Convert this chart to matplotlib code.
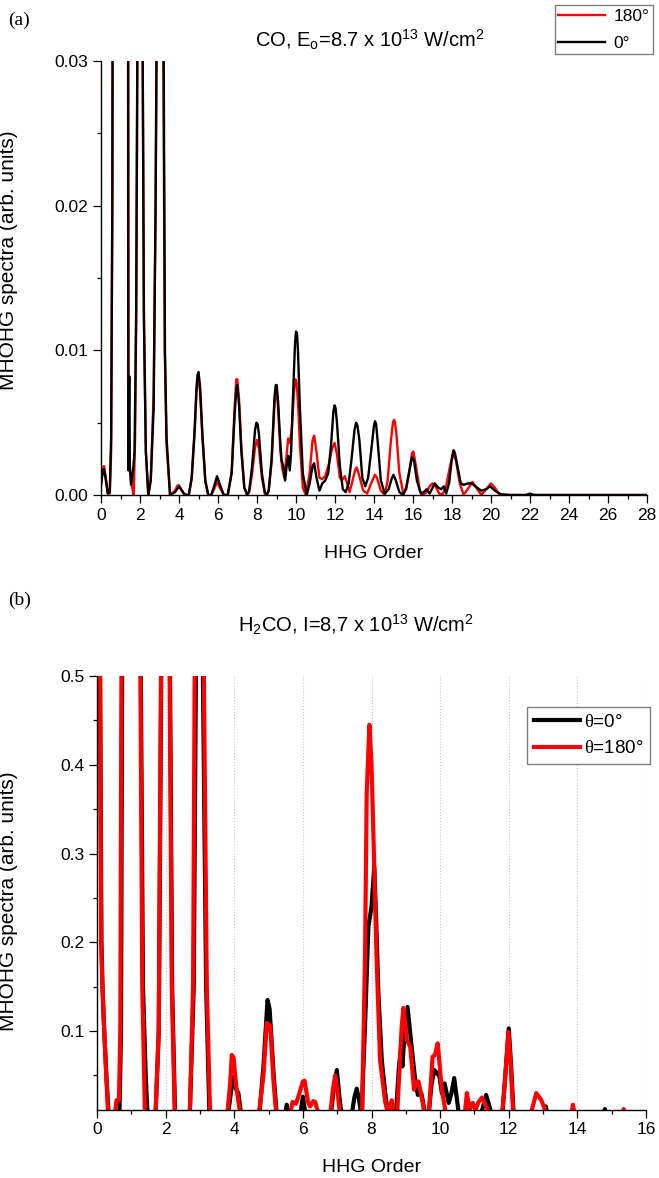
import matplotlib
matplotlib.use("Agg")
import matplotlib.pyplot as plt
from matplotlib.ticker import MultipleLocator, FormatStrFormatter

plt.rcParams['font.family'] = ['Liberation Sans', 'DejaVu Sans']
plt.rcParams['mathtext.fontset'] = 'custom'
plt.rcParams['mathtext.rm'] = 'Liberation Sans'
plt.rcParams['mathtext.it'] = 'Liberation Serif'

# --- (a) CO spectra ---
co_x_0 = [0.0, 0.08, 0.15, 0.25, 0.35, 0.45, 0.52, 0.58, 0.62, 1.0, 1.38,
          1.40, 1.45, 1.48, 1.54, 1.65, 1.72, 1.80, 1.86, 1.90, 2.0, 2.1, 2.14, 2.2, 2.3, 2.43,
          2.55, 2.7, 2.8, 2.87, 3.0, 3.2, 3.28, 3.36, 3.54,
          3.8, 3.9, 4.0, 4.1, 4.25, 4.4,
          4.5, 4.65, 4.8, 4.9, 4.95, 5.0, 5.08, 5.2, 5.35, 5.5,
          5.65, 5.8, 5.95, 6.1, 6.3,
          6.5, 6.7, 6.85, 6.94, 6.99, 7.08, 7.2, 7.35, 7.5,
          7.6, 7.75, 7.9, 7.97, 8.03, 8.1, 8.25, 8.4, 8.5,
          8.6, 8.75, 8.9, 8.96, 9.01, 9.08, 9.2, 9.26, 9.35, 9.44, 9.52, 9.6, 9.68,
          9.75, 9.85, 9.95, 10.0, 10.05, 10.1, 10.2, 10.35, 10.55,
          10.7, 10.85, 10.93, 11.05, 11.2, 11.35, 11.5, 11.65,
          11.8, 11.92, 11.98, 12.03, 12.1, 12.25, 12.4, 12.55,
          12.7, 12.85, 13.0, 13.08, 13.15, 13.25, 13.4, 13.55,
          13.7, 13.85, 14.0, 14.05, 14.11, 14.2, 14.35, 14.55,
          14.75, 14.9, 15.0, 15.12, 15.3, 15.5,
          15.65, 15.8, 15.95, 16.05, 16.2, 16.4,
          16.55, 16.7, 16.85, 17.0, 17.12, 17.3, 17.45, 17.58, 17.7,
          17.85, 18.0, 18.08, 18.15, 18.25, 18.45, 18.6, 18.8, 19.0, 19.2,
          19.5, 19.75, 19.95, 20.2, 20.5, 21.0, 21.8, 22.0, 22.2, 28.0]
co_y_0 = [0.0007, 0.0015, 0.0018, 0.0010, 0.0001, 0.0002, 0.004, 0.02, 0.05, 0.08, 0.05,
          0.0017, 0.0082, 0.0020, 0.0007, 0.0018, 0.0030, 0.012, 0.03, 0.06, 0.08, 0.06, 0.03, 0.012, 0.003, 0.0,
          0.001, 0.006, 0.02, 0.035, 0.08, 0.035, 0.010, 0.004, 0.0,
          0.0002, 0.0004, 0.0006, 0.0004, 0.0001, 0.0,
          0.0, 0.0012, 0.0045, 0.0075, 0.0083, 0.0085, 0.0075, 0.0042, 0.0010, 0.0,
          0.0, 0.0006, 0.0013, 0.0007, 0.0,
          0.0, 0.0015, 0.0055, 0.0074, 0.0076, 0.0062, 0.0030, 0.0005, 0.0,
          0.0003, 0.0020, 0.0045, 0.0050, 0.0049, 0.0042, 0.0015, 0.0002, 0.0,
          0.0003, 0.0025, 0.0068, 0.0076, 0.0076, 0.0065, 0.0035, 0.0024, 0.0020, 0.0010, 0.0020, 0.0027, 0.0017,
          0.0030, 0.0070, 0.0105, 0.0113, 0.0112, 0.0100, 0.0060, 0.0015, 0.0,
          0.0008, 0.0020, 0.0022, 0.0012, 0.0003, 0.0008, 0.0010, 0.0015,
          0.0035, 0.0058, 0.0062, 0.0060, 0.0050, 0.0020, 0.0004, 0.0002,
          0.0008, 0.0025, 0.0045, 0.0050, 0.0048, 0.0038, 0.0012, 0.0006,
          0.0012, 0.0030, 0.0048, 0.0051, 0.0049, 0.0035, 0.0010, 0.0001,
          0.0004, 0.0011, 0.0014, 0.0010, 0.0002, 0.0,
          0.0005, 0.0016, 0.0026, 0.0024, 0.0010, 0.0001,
          0.0002, 0.0004, 0.0001, 0.0005, 0.0008, 0.0005, 0.0004, 0.0006, 0.0001,
          0.0008, 0.0026, 0.0031, 0.0029, 0.0022, 0.0008, 0.0007, 0.0008, 0.0008, 0.0006,
          0.0003, 0.0004, 0.0006, 0.0003, 0.00005, 0.0, 0.0, 0.0001, 0.0, 0.0]

co_x_180 = [0.0, 0.08, 0.15, 0.25, 0.35, 0.45, 0.52, 0.58, 0.62, 1.0, 1.38,
            1.42, 1.5, 1.6, 1.68, 1.75, 1.82, 1.88, 2.0, 2.12, 2.2, 2.3, 2.42,
            2.55, 2.7, 2.8, 2.86, 3.0, 3.18, 3.27, 3.36, 3.54,
            3.8, 3.9, 3.98, 4.1, 4.25, 4.4,
            4.5, 4.65, 4.8, 4.9, 4.95, 5.0, 5.08, 5.2, 5.35, 5.5,
            5.65, 5.8, 5.95, 6.1, 6.3,
            6.5, 6.7, 6.85, 6.94, 6.99, 7.08, 7.2, 7.35, 7.5,
            7.6, 7.75, 7.9, 8.0, 8.1, 8.25, 8.4, 8.5,
            8.6, 8.75, 8.9, 8.96, 9.01, 9.08, 9.2, 9.3, 9.4, 9.5, 9.6, 9.68,
            9.78, 9.9, 9.97, 10.03, 10.1, 10.2, 10.35, 10.5,
            10.7, 10.85, 10.93, 11.05, 11.2, 11.35, 11.5,
            11.7, 11.85, 11.98, 12.1, 12.25, 12.35, 12.5, 12.6, 12.75,
            12.9, 13.05, 13.12, 13.25, 13.45, 13.65,
            13.85, 14.05, 14.15, 14.35, 14.55,
            14.7, 14.85, 14.97, 15.03, 15.08, 15.15, 15.3, 15.5,
            15.65, 15.8, 15.95, 16.02, 16.15, 16.35, 16.5,
            16.7, 16.85, 17.0, 17.15, 17.35, 17.5,
            17.7, 17.9, 18.05, 18.2, 18.4, 18.6,
            18.8, 19.05, 19.25, 19.5, 19.75, 20.0, 20.2, 20.45, 28.0]
co_y_180 = [0.0008, 0.0018, 0.0020, 0.0012, 0.0001, 0.0001, 0.003, 0.02, 0.05, 0.08, 0.05,
            0.0020, 0.0015, 0.0005, 0.0, 0.004, 0.015, 0.035, 0.08, 0.035, 0.013, 0.003, 0.0,
            0.001, 0.007, 0.02, 0.035, 0.08, 0.035, 0.010, 0.0035, 0.0,
            0.0003, 0.0006, 0.0007, 0.0004, 0.0001, 0.0,
            0.0, 0.0011, 0.0042, 0.0072, 0.0079, 0.0080, 0.0072, 0.0040, 0.0009, 0.0,
            0.0, 0.0004, 0.0009, 0.0005, 0.0,
            0.0, 0.0016, 0.0060, 0.0080, 0.0080, 0.0066, 0.0032, 0.0005, 0.0,
            0.0002, 0.0015, 0.0033, 0.0038, 0.0032, 0.0012, 0.0001, 0.0,
            0.0003, 0.0023, 0.0064, 0.0071, 0.0071, 0.0060, 0.0030, 0.0018, 0.0012, 0.0025, 0.0039, 0.0036,
            0.0045, 0.0072, 0.0080, 0.0078, 0.0065, 0.0035, 0.0005, 0.0,
            0.0015, 0.0038, 0.0041, 0.0030, 0.0012, 0.0011, 0.0013,
            0.0022, 0.0032, 0.0036, 0.0028, 0.0012, 0.0010, 0.0013, 0.0009, 0.0002,
            0.0010, 0.0018, 0.0019, 0.0013, 0.0003, 0.0001,
            0.0008, 0.0014, 0.0012, 0.0003, 0.0,
            0.0010, 0.0035, 0.0050, 0.0052, 0.0050, 0.0042, 0.0015, 0.0001,
            0.0004, 0.0015, 0.0029, 0.0030, 0.0020, 0.0003, 0.0,
            0.0002, 0.0006, 0.0008, 0.0006, 0.0001, 0.0,
            0.0006, 0.0020, 0.0028, 0.0024, 0.0008, 0.0,
            0.0004, 0.0009, 0.0005, 0.0, 0.0004, 0.0008, 0.0005, 0.0, 0.0]

# --- (b) H2CO spectra ---
h2co_x_0 = [0.0, 0.09, 0.13, 0.16, 0.21, 0.28, 0.35, 0.65, 0.70, 0.74, 1.0, 1.26, 1.34, 1.42, 1.48,
            1.7, 1.8, 1.89, 2.0, 2.11, 2.19, 2.28, 2.7, 2.82, 2.9, 3.0, 3.06, 3.18, 3.28,
            3.8, 3.9, 3.97, 4.05, 4.12, 4.22,
            4.72, 4.85, 4.97, 5.03, 5.15, 5.25, 5.45, 5.53, 5.6,
            5.9, 6.0, 6.1, 6.8, 6.9, 6.99, 7.08, 7.15,
            7.4, 7.5, 7.57, 7.65, 7.72, 7.74, 7.81, 7.91, 8.0, 8.08, 8.14, 8.2, 8.3, 8.4, 8.5,
            8.7, 8.8, 8.86, 8.9, 8.95, 9.05, 9.17, 9.27, 9.35, 9.45, 9.6,
            9.65, 9.75, 9.83, 9.9, 9.98, 10.05, 10.13, 10.25, 10.33, 10.41, 10.53, 10.6,
            11.15, 11.34, 11.55, 11.8, 11.9, 12.0, 12.07, 12.15,
            13.0, 13.08, 13.15, 14.75, 14.8, 14.85, 16.0]
h2co_y_0 = [0.8, 0.5, 0.2, 0.15, 0.10, 0.045, 0.0, 0.0, 0.1, 0.6, 0.9, 0.6, 0.15, 0.05, 0.0,
            0.0, 0.1, 0.6, 0.9, 0.6, 0.15, 0.0, 0.0, 0.15, 0.6, 0.9, 0.6, 0.15, 0.0,
            0.0, 0.03, 0.048, 0.035, 0.03, 0.0,
            0.0, 0.06, 0.135, 0.125, 0.05, 0.0, 0.0, 0.017, 0.0,
            0.0, 0.026, 0.0, 0.0, 0.035, 0.056, 0.02, 0.0,
            0.0, 0.025, 0.035, 0.02, 0.0, 0.035, 0.105, 0.218, 0.24, 0.285, 0.22, 0.143, 0.067, 0.03, 0.0,
            0.0, 0.06, 0.08, 0.06, 0.09, 0.127, 0.082, 0.046, 0.028, 0.03, 0.0,
            0.0, 0.04, 0.056, 0.053, 0.049, 0.030, 0.041, 0.019, 0.03, 0.047, 0.011, 0.0,
            0.0, 0.028, 0.0, 0.0, 0.05, 0.103, 0.06, 0.0,
            0.0, 0.015, 0.0, 0.0, 0.012, 0.0, 0.0]

h2co_x_180 = [0.0, 0.09, 0.12, 0.15, 0.2, 0.27, 0.33, 0.5, 0.57, 0.64, 0.68, 0.72, 1.0, 1.25, 1.32, 1.4,
              1.7, 1.8, 1.88, 2.0, 2.1, 2.18, 2.27, 2.7, 2.8, 2.86, 3.0, 3.09, 3.2, 3.3,
              3.78, 3.88, 3.93, 3.98, 4.06, 4.2,
              4.7, 4.85, 4.95, 5.05, 5.15, 5.24,
              5.6, 5.7, 5.8, 5.9, 6.0, 6.05, 6.15, 6.21, 6.3, 6.36, 6.5,
              6.78, 6.88, 6.94, 7.0, 7.1,
              7.72, 7.81, 7.86, 7.94, 8.0, 8.05, 8.15, 8.25, 8.4, 8.45, 8.52, 8.59, 8.65,
              8.74, 8.88, 8.93, 8.98, 9.03, 9.13, 9.24, 9.32, 9.37, 9.5, 9.56,
              9.66, 9.78, 9.85, 9.93, 10.05, 10.15, 10.2,
              10.7, 10.78, 10.86, 10.95, 11.03, 11.12, 11.22, 11.3, 11.4, 11.5,
              11.8, 11.9, 11.99, 12.06, 12.14,
              12.6, 12.72, 12.8, 12.9, 12.95, 13.05, 13.1,
              13.8, 13.87, 13.95, 15.3, 15.35, 15.4, 16.0]
h2co_y_180 = [0.8, 0.5, 0.2, 0.16, 0.11, 0.05, 0.0, 0.0, 0.022, 0.022, 0.1, 0.6, 0.9, 0.6, 0.15, 0.0,
              0.0, 0.1, 0.6, 0.9, 0.6, 0.15, 0.0, 0.0, 0.15, 0.6, 0.9, 0.6, 0.15, 0.0,
              0.0, 0.04, 0.073, 0.070, 0.037, 0.0,
              0.0, 0.05, 0.109, 0.106, 0.04, 0.0,
              0.0, 0.020, 0.018, 0.03, 0.043, 0.044, 0.02, 0.015, 0.021, 0.020, 0.0,
              0.0, 0.035, 0.050, 0.035, 0.0,
              0.0, 0.18, 0.368, 0.445, 0.40, 0.33, 0.18, 0.067, 0.02, 0.012, 0.012, 0.022, 0.0,
              0.0, 0.105, 0.126, 0.11, 0.09, 0.082, 0.034, 0.043, 0.043, 0.018, 0.0,
              0.0, 0.071, 0.073, 0.086, 0.034, 0.011, 0.0,
              0.0, 0.030, 0.012, 0.019, 0.011, 0.02, 0.025, 0.018, 0.011, 0.0,
              0.0, 0.05, 0.099, 0.06, 0.0,
              0.0, 0.018, 0.030, 0.025, 0.022, 0.012, 0.0,
              0.0, 0.017, 0.0, 0.0, 0.012, 0.0, 0.0]

W, H = 659, 1178
fig = plt.figure(figsize=(W / 100, H / 100), dpi=100)


def box(left, top, right, bottom):
    # pixel box -> figure fraction
    return [left / W, 1 - bottom / H, (right - left) / W, (bottom - top) / H]


def style_axes(ax):
    for s in ['top', 'right']:
        ax.spines[s].set_visible(False)
    for s in ['left', 'bottom']:
        ax.spines[s].set_linewidth(1.0)
    ax.tick_params(which='major', direction='out', length=5.5, width=0.9, labelsize=12.5)
    ax.tick_params(which='minor', direction='out', length=3, width=0.9)


# ---------- panel (a) ----------
ax1 = fig.add_axes(box(101, 61, 647, 495))
ax1.plot(co_x_180, co_y_180, color='red', lw=1.7, label='180°')
ax1.plot(co_x_0, co_y_0, color='black', lw=1.7, label='0°')
ax1.set_xlim(0, 28)
ax1.set_ylim(0, 0.03)
ax1.xaxis.set_major_locator(MultipleLocator(2))
ax1.xaxis.set_minor_locator(MultipleLocator(1))
ax1.yaxis.set_major_locator(MultipleLocator(0.01))
ax1.yaxis.set_minor_locator(MultipleLocator(0.005))
ax1.yaxis.set_major_formatter(FormatStrFormatter('%.2f'))
style_axes(ax1)
ax1.set_xlabel('HHG Order', fontsize=14)
ax1.xaxis.set_label_coords(0.5, -0.115)
ax1.set_ylabel('MHOHG spectra (arb. units)', fontsize=15)
ax1.yaxis.set_label_coords(-0.152, 0.54)

fig.text(370 / W, 1 - 40 / H, r'CO, E$_\mathrm{o}$=8.7 x 10$^{13}$ W/cm$^2$',
         fontsize=14.5, ha='center', va='center')
fig.text(8 / W, 1 - 20 / H, '(a)', fontsize=14, family='Liberation Serif',
         ha='left', va='center')

# legend box runs past the right edge, as in the original
leg1 = fig.legend(handles=ax1.get_lines(), loc='upper left',
                  bbox_to_anchor=(555 / W, 1 - 5 / H), fontsize=12.5,
                  frameon=True, fancybox=False, edgecolor='#7f7f7f', framealpha=1,
                  borderaxespad=0, borderpad=0.2, handlelength=2.7,
                  handletextpad=0.45, labelspacing=0.7)
leg1.get_frame().set_linewidth(1.0)

# ---------- panel (b) ----------
ax2 = fig.add_axes(box(97, 676, 646, 1110))
ax2.plot(h2co_x_0, h2co_y_0, color='black', lw=3.0, label=r'$\theta$=0°')
ax2.plot(h2co_x_180, h2co_y_180, color='red', lw=3.0, label=r'$\theta$=180°')
ax2.set_xlim(0, 16)
ax2.set_ylim(0.011, 0.5)
ax2.xaxis.set_major_locator(MultipleLocator(2))
ax2.xaxis.set_minor_locator(MultipleLocator(1))
ax2.yaxis.set_major_locator(MultipleLocator(0.1))
ax2.yaxis.set_minor_locator(MultipleLocator(0.05))
ax2.yaxis.set_major_formatter(FormatStrFormatter('%.1f'))
ax2.grid(axis='x', which='major', color='#c8c8c8', linestyle=':', linewidth=0.8)
ax2.set_axisbelow(True)
style_axes(ax2)
ax2.set_xlabel('HHG Order', fontsize=14)
ax2.xaxis.set_label_coords(0.5, -0.112)
ax2.set_ylabel('MHOHG spectra (arb. units)', fontsize=15)
ax2.yaxis.set_label_coords(-0.144, 0.48)

fig.text(356 / W, 1 - 625 / H, r'H$_2$CO, I=8,7 x 10$^{13}$ W/cm$^2$',
         fontsize=14.5, ha='center', va='center')
fig.text(8 / W, 1 - 600 / H, '(b)', fontsize=14, family='Liberation Serif',
         ha='left', va='center')

leg2 = ax2.legend(loc='upper left', bbox_to_anchor=(527 / W, 1 - 707 / H),
                  bbox_transform=fig.transFigure, fontsize=13.5,
                  frameon=True, fancybox=False, edgecolor='#7f7f7f', framealpha=1,
                  borderaxespad=0, borderpad=0.35, handlelength=2.5,
                  handletextpad=0.2, labelspacing=0.5)
leg2.get_frame().set_linewidth(1.0)

fig.savefig('out.png', dpi=100)
